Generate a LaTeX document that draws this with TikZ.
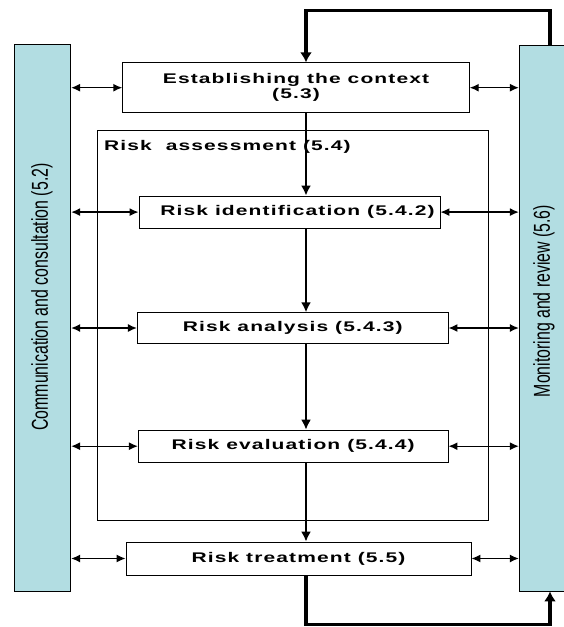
\documentclass[tikz,border=0pt]{standalone}
\usepackage{fontspec}
\setmainfont{Liberation Sans}
\newfontfamily\stagefont{Liberation Sans}[FakeStretch=1.5,LetterSpace=8]
\newfontfamily\sidefont{Liberation Sans}[FakeStretch=0.69]
\usepackage{xcolor}
\usepackage{tikz}
\usetikzlibrary{arrows.meta}
\definecolor{barfill}{RGB}{178,221,226}

\begin{document}
\begin{tikzpicture}[x=1pt, y=-1pt,
		stage/.style={draw, thick, fill=white, inner sep=0pt, align=center, font=\stagefont\bfseries\fontsize{14}{15}\selectfont},
		sidebar/.style={draw, thick, fill=barfill, inner sep=0pt},
		sidetext/.style={rotate=90, inner sep=0pt, font=\sidefont\fontsize{23}{25}\selectfont},
		link/.style={{Latex[length=9pt,width=8pt]}-{Latex[length=9pt,width=8pt]}, line width=1.4pt},
		flow/.style={-{Latex[length=10pt,width=10pt]}, line width=1.9pt},
		feedback/.style={-{Latex[length=10pt,width=12pt]}, line width=3.5pt}]
		\useasboundingbox (0,0) rectangle (563,627);
		% side bars
		\node[sidebar, minimum width=56.7pt, minimum height=546.7pt] (comm) at (42.35,317.65) {};
		\node[sidetext] (commtext) at (42,297) {Communication and consultation (5.2)};
		\node[sidebar, minimum width=51pt, minimum height=546pt] (monitor) at (544.8,318) {};
		\node[sidetext] (montext) at (544,301) {Monitoring and review (5.6)};
		% risk assessment frame
		\node[draw, thick, minimum width=390.3pt, minimum height=390pt] (assess) at (292.85,325.7) {};
		\node[anchor=west, inner sep=0pt, font=\stagefont\bfseries\fontsize{14}{15}\selectfont] (assesslabel) at (104,147) {Risk\ \ assessment (5.4)};
		% process steps
		\node[stage, minimum width=346.6pt, minimum height=50pt] (context) at (296,87.7) {Establishing the context\\(5.3)};
		\node[stage, minimum width=301pt, minimum height=32.3pt] (ident) at (289.5,212.1) {\hspace*{16pt}Risk identification (5.4.2)};
		\node[stage, minimum width=310.7pt, minimum height=30.6pt] (analysis) at (292.7,328) {Risk analysis (5.4.3)};
		\node[stage, minimum width=309.7pt, minimum height=32.3pt] (eval) at (293.2,446.2) {Risk evaluation (5.4.4)};
		\node[stage, minimum width=345pt, minimum height=33pt] (treat) at (298.5,558.5) {Risk treatment (5.5)};
		% connectors
		\coordinate (spine) at (306,0);
		\coordinate (topturn) at (550,10.7);
		\coordinate (bottomturn) at (550,624.7);
		\draw[flow] (context.south -| spine) -- (ident.north -| spine);
		\draw[flow] (ident.south -| spine) -- (analysis.north -| spine);
		\draw[flow] (analysis.south -| spine) -- (eval.north -| spine);
		\draw[flow] (eval.south -| spine) -- (treat.north -| spine);
		\foreach \step in {context, ident, analysis, eval, treat} {
			\draw[link] (comm.east |- \step.west) -- (\step.west);
			\draw[link] (\step.east) -- (monitor.west |- \step.east);
		}
		\draw[feedback] (monitor.north -| topturn) -- (topturn) -| (context.north -| spine);
		\draw[feedback] (treat.south -| spine) |- (bottomturn) -- (monitor.south -| bottomturn);
	\end{tikzpicture}
\end{document}
